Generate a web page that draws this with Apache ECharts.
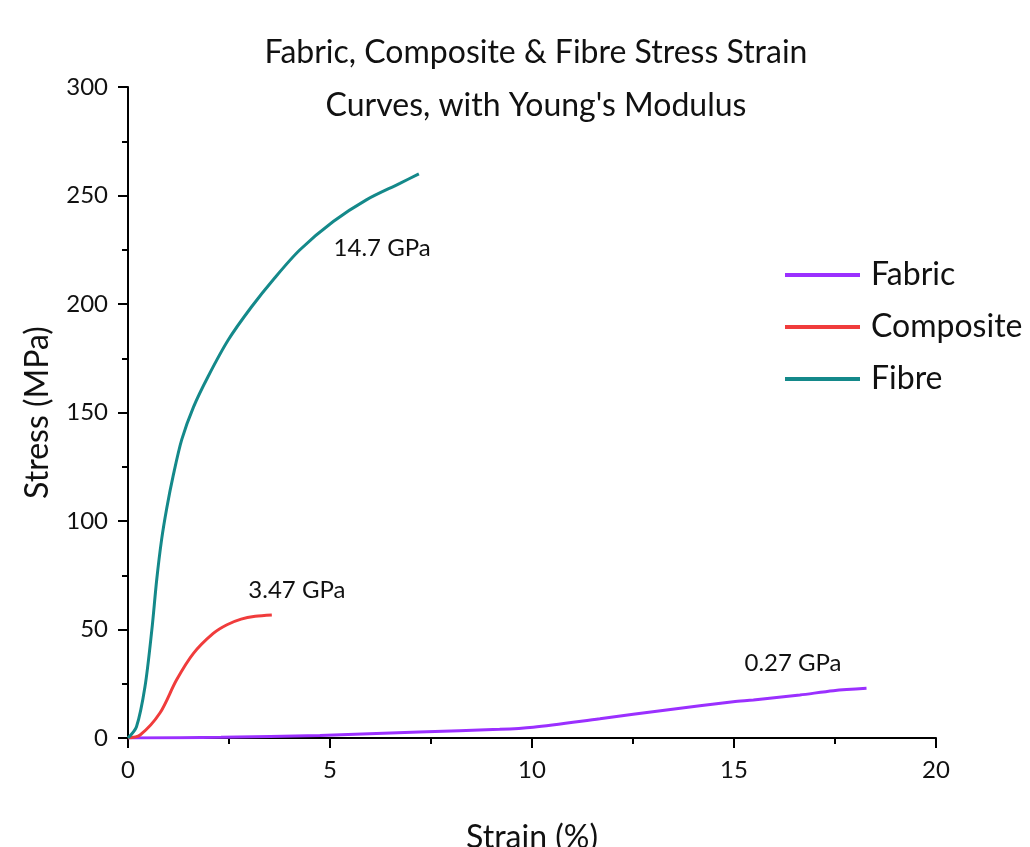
<!DOCTYPE html>
<html><head><meta charset="utf-8">
<script src="https://cdn.jsdelivr.net/npm/echarts@6/dist/echarts.min.js"></script>
<style>html,body{margin:0;padding:0;background:#fff}#c{width:1030px;height:847px}</style>
</head><body><div id="c"></div>
<script>
const fabricStrain = [0, 2.3, 4.75, 7.2, 9.2, 10.03, 11.68, 13.33, 14.98, 15.48, 16.63, 17.46, 18.28];
const fabricStress = [0, 0.3, 1.2, 2.8, 4.0, 5.0, 8.9, 12.9, 16.7, 17.5, 19.8, 21.8, 22.9];
const compositeStrain = [0, 0.3, 0.79, 1.2, 1.62, 2.11, 2.45, 2.8, 3.15, 3.56];
const compositeStress = [0, 1.4, 11.5, 26.7, 39, 48.2, 52.2, 54.8, 56.1, 56.7];
const fibreStrain = [0, 0.21, 0.42, 0.59, 0.71, 0.83, 0.96, 1.12, 1.33, 1.62, 1.98, 2.48, 3.05, 3.63, 4.25, 5.08, 5.9, 6.73, 7.2];
const fibreStress = [0, 5.2, 23.6, 49.8, 72.8, 91.2, 106, 121, 137.5, 152.5, 166.5, 183.4, 198.5, 212, 224.9, 238, 248, 255.6, 260];
const seriesNames = ['Fabric', 'Composite', 'Fibre'];
const seriesColors = ['#9b30ff', '#f03c3c', '#14898a'];
const modulusLabels = ['0.27 GPa', '3.47 GPa', '14.7 GPa'];
const modulusPos = [[16.46, 34.6], [4.18, 68.2], [6.29, 225.8]];
const xTicks = [0, 5, 10, 15, 20];
const yTicks = [0, 50, 100, 150, 200, 250, 300];

const zip = (a, b) => a.map((v, i) => [v, b[i]]);
const datasets = [zip(fabricStrain, fabricStress), zip(compositeStrain, compositeStress), zip(fibreStrain, fibreStress)];
const FONT = 'Lato';

const chart = echarts.init(document.getElementById('c'));
chart.setOption({
  backgroundColor: '#fff',
  animation: false,
  title: {
    text: 'Fabric, Composite & Fibre Stress Strain\nCurves, with Young\'s Modulus',
    left: 531, top: 21, textAlign: 'center',
    textStyle: { fontFamily: FONT, fontSize: 32, fontWeight: 'normal', color: '#111', lineHeight: 53 }
  },
  legend: {
    orient: 'vertical', left: 780, top: 254, itemGap: 20,
    itemWidth: 75, itemHeight: 4, icon: 'rect',
    data: seriesNames,
    textStyle: { fontFamily: FONT, fontSize: 32, color: '#111', padding: [0, 0, 0, 6] }
  },
  grid: { left: 128, right: 94, top: 87, bottom: 109, containLabel: false, outerBoundsMode: 'none' },
  xAxis: {
    type: 'value', min: 0, max: 20, interval: 5,
    name: 'Strain (%)', nameLocation: 'middle', nameGap: 84,
    nameTextStyle: { fontFamily: FONT, fontSize: 32, color: '#111' },
    axisLine: { show: true, onZero: false, lineStyle: { color: '#000', width: 2 } },
    axisTick: { show: true, length: 10, lineStyle: { color: '#000', width: 2 } },
    minorTick: { show: true, splitNumber: 2, length: 6, lineStyle: { color: '#000', width: 2 } },
    splitLine: { show: false },
    axisLabel: { fontFamily: FONT, fontSize: 24, color: '#111', margin: 20, formatter: v => xTicks.includes(v) ? String(v) : '' }
  },
  yAxis: {
    type: 'value', min: 0, max: 300, interval: 50,
    name: 'Stress (MPa)', nameLocation: 'middle', nameGap: 74, nameRotate: 90,
    nameTextStyle: { fontFamily: FONT, fontSize: 32, color: '#111' },
    axisLine: { show: true, onZero: false, lineStyle: { color: '#000', width: 2 } },
    axisTick: { show: true, length: 10, lineStyle: { color: '#000', width: 2 } },
    minorTick: { show: true, splitNumber: 2, length: 6, lineStyle: { color: '#000', width: 2 } },
    splitLine: { show: false },
    axisLabel: { fontFamily: FONT, fontSize: 24, color: '#111', margin: 20, formatter: v => yTicks.includes(v) ? String(v) : '' }
  },
  series: seriesNames.map((n, i) => ({
    name: n, type: 'line', data: datasets[i], smooth: 0.3, showSymbol: false, symbol: 'none',
    color: seriesColors[i],
    lineStyle: { width: 3, color: seriesColors[i] },
    markPoint: {
      symbol: 'circle', symbolSize: 0,
      data: [{ coord: modulusPos[i], value: modulusLabels[i] }],
      label: { show: true, position: 'inside', formatter: modulusLabels[i], fontFamily: FONT, fontSize: 24, color: '#111' }
    }
  }))
});
</script></body></html>
